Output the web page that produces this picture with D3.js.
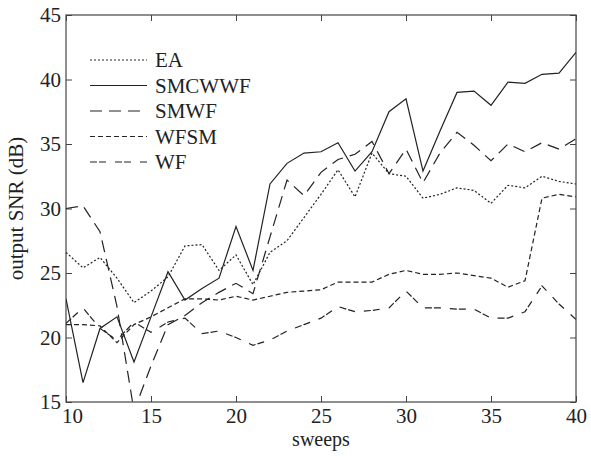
<!DOCTYPE html>
<html lang="en">
<head>
    <meta charset="UTF-8">
    <title>output SNR vs sweeps</title>
    <script src="https://d3js.org/d3.v7.min.js"></script>
    <style>
        body {
            margin: 0;
            padding: 0;
            background: #fff;
        }
        svg text {
            font-family: "Liberation Serif", "Times New Roman", serif;
            fill: #222;
        }
    </style>
</head>
<body>
    <svg width="591" height="457"></svg>

    <script>
        // sweeps 10..40
        const sweeps = d3.range(10, 41);

        const ea = [26.6, 25.4, 26.2, 24.6, 22.7, 23.6, 24.7, 27.1, 27.2, 25.2, 26.4,
                    24.1, 26.6, 27.5, 29.3, 31.1, 33.0, 30.9, 34.3, 32.7, 32.5,
                    30.8, 31.1, 31.6, 31.4, 30.4, 31.8, 31.6, 32.5, 32.1, 31.9];
        const smcwwf = [23.0, 16.5, 20.7, 21.6, 18.1, 21.6, 25.1, 22.9, 23.8, 24.6, 28.6,
                        25.2, 31.9, 33.5, 34.3, 34.4, 35.1, 32.9, 34.4, 37.5, 38.5,
                        32.9, 36.0, 39.0, 39.1, 38.0, 39.8, 39.7, 40.4, 40.5, 42.1];
        const smwf = [30.0, 30.2, 28.2, 22.4, 14.3, 17.8, 21.0, 21.7, 22.7, 23.5, 24.2,
                      23.4, 27.8, 32.2, 31.0, 32.8, 33.8, 34.2, 35.2, 32.7, 34.6,
                      32.0, 34.3, 35.9, 34.9, 33.7, 35.0, 34.4, 35.1, 34.6, 35.4];
        const wfsm = [21.0, 21.0, 20.9, 19.6, 21.0, 21.6, 22.3, 23.0, 23.0, 22.9, 23.2,
                      22.9, 23.2, 23.5, 23.6, 23.7, 24.3, 24.3, 24.3, 24.9, 25.2,
                      24.9, 24.9, 25.0, 24.8, 24.6, 23.9, 24.4, 30.8, 31.1, 30.9];
        const wf = [21.1, 22.3, 20.7, 19.8, 21.2, 20.4, 21.2, 21.5, 20.3, 20.5, 20.0,
                    19.4, 19.8, 20.5, 21.0, 21.5, 22.4, 22.0, 22.1, 22.3, 23.6,
                    22.3, 22.3, 22.2, 22.2, 21.5, 21.5, 22.0, 24.0, 22.6, 21.4];

        const seriesNames = ["EA", "SMCWWF", "SMWF", "WFSM", "WF"];
        const seriesValues = [ea, smcwwf, smwf, wfsm, wf];
        const dashes = ["2,2", null, "12,7", "5,3", "7,2,7,9"];

        const xTicks = [10, 15, 20, 25, 30, 35, 40];
        const yTicks = [15, 20, 25, 30, 35, 40, 45];

        const margin = { top: 15, right: 15, bottom: 55, left: 66 };
        const width = 591 - margin.left - margin.right;
        const height = 457 - margin.top - margin.bottom;

        const svg = d3.select("svg")
            .append("g")
            .attr("transform", `translate(${margin.left},${margin.top})`);

        const x = d3.scaleLinear().domain([10, 40]).range([0, width]);
        const y = d3.scaleLinear().domain([15, 45]).range([height, 0]);

        svg.append("clipPath").attr("id", "plot-clip")
            .append("rect").attr("width", width).attr("height", height);

        // axes: ticks inward on all four sides
        const axisStyle = g => {
            g.select(".domain").remove();
            g.selectAll("line").attr("stroke", "#444");
            g.selectAll("text").style("font-size", "21px");
        };

        const xAxisG = svg.append("g")
            .attr("transform", `translate(0,${height})`)
            .call(d3.axisBottom(x).tickValues(xTicks).tickSize(-6).tickPadding(6))
            .call(axisStyle);
        // first label sits a little right of the corner, as in the original
        xAxisG.selectAll("text").filter(d => d === 10).attr("dx", 6);

        svg.append("g")
            .call(d3.axisTop(x).tickValues(xTicks).tickSize(-6).tickFormat(""))
            .call(axisStyle);
        svg.append("g")
            .call(d3.axisLeft(y).tickValues(yTicks).tickSize(-6).tickPadding(5))
            .call(axisStyle);
        svg.append("g")
            .attr("transform", `translate(${width},0)`)
            .call(d3.axisRight(y).tickValues(yTicks).tickSize(-6).tickFormat(""))
            .call(axisStyle);

        svg.append("rect")
            .attr("width", width).attr("height", height)
            .attr("fill", "none").attr("stroke", "#444").attr("stroke-width", 1.2);

        const line = d3.line()
            .x((d, i) => x(sweeps[i]))
            .y(d => y(d));

        svg.append("g").attr("clip-path", "url(#plot-clip)")
            .selectAll("path")
            .data(seriesValues)
            .enter()
            .append("path")
            .attr("d", line)
            .attr("fill", "none")
            .attr("stroke", "#222")
            .attr("stroke-width", 1.2)
            .attr("stroke-dasharray", (d, i) => dashes[i]);

        // legend
        const legend = svg.append("g").attr("transform", "translate(24,45)");
        seriesNames.forEach((name, i) => {
            const row = legend.append("g").attr("transform", `translate(0,${i * 25.5})`);
            row.append("line")
                .attr("x1", 0).attr("x2", 57)
                .attr("stroke", "#222").attr("stroke-width", 1.2)
                .attr("stroke-dasharray", dashes[i]);
            row.append("text")
                .attr("x", 65).attr("y", 7)
                .style("font-size", "21px")
                .text(name);
        });

        svg.append("text")
            .attr("x", width / 2).attr("y", height + 44)
            .attr("text-anchor", "middle")
            .style("font-size", "20px")
            .text("sweeps");

        svg.append("text")
            .attr("transform", `translate(-43,${height / 2}) rotate(-90)`)
            .attr("text-anchor", "middle")
            .style("font-size", "21px")
            .text("output SNR (dB)");
    </script>
</body>
</html>
